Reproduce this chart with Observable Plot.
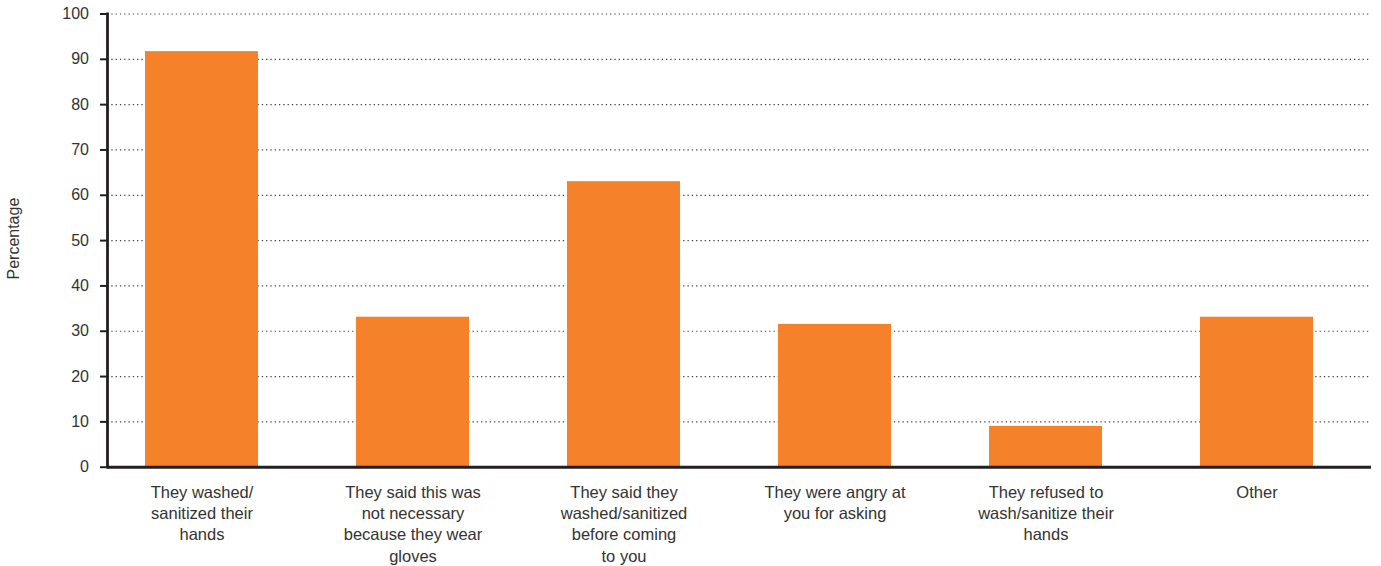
<!DOCTYPE html>
<html>
<head>
<meta charset="utf-8">
<script src="https://cdn.jsdelivr.net/npm/d3@7"></script>
<script src="https://cdn.jsdelivr.net/npm/@observablehq/plot@0.6"></script>
<style>
  html, body { margin: 0; padding: 0; background: #fff; }
  #chart svg { display: block; }
</style>
</head>
<body>
<div id="chart"></div>
<script>
const categories = [
  "They washed/\nsanitized their\nhands",
  "They said this was\nnot necessary\nbecause they wear\ngloves",
  "They said they\nwashed/sanitized\nbefore coming\nto you",
  "They were angry at\nyou for asking",
  "They refused to\nwash/sanitize their\nhands",
  "Other"
];
const percentages = [91.7, 33.1, 63.0, 31.5, 9.0, 33.1];
const yTicks = [0, 10, 20, 30, 40, 50, 60, 70, 80, 90, 100];
const yLabel = "Percentage";

const data = categories.map((c, i) => ({category: c, value: percentages[i]}));

const font = "'Liberation Sans', Arial, Helvetica, sans-serif";
const textColor = "#333";
const axisColor = "#231f20";

const chart = Plot.plot({
  width: 1381,
  height: 566,
  marginLeft: 107,
  marginRight: 10,
  marginTop: 13.5,
  marginBottom: 99.3,
  style: {fontFamily: font, background: "#fff", color: textColor},
  x: {domain: categories, range: [93.5, 1364.8], paddingInner: 0.466, paddingOuter: 0.233, align: 0.5},
  y: {domain: [0, 100]},
  marks: [
    Plot.gridY(yTicks.filter(d => d > 0), {stroke: "#444", strokeOpacity: 1, strokeWidth: 1.2, strokeDasharray: "1.3,3"}),
    Plot.barY(data, {x: "category", y: "value", fill: "#f5822a"}),
    Plot.axisY(yTicks, {tickSize: 7, tickPadding: 11.5, fontSize: 16, stroke: axisColor, strokeWidth: 2, fill: textColor, label: null}),
    Plot.axisX({tickSize: 0, tickPadding: 16, fontSize: 16.5, lineHeight: 1.28, fill: textColor, label: null}),
    Plot.frame({anchor: "left", stroke: axisColor, strokeWidth: 2.8}),
    Plot.ruleY([0], {stroke: axisColor, strokeWidth: 3}),
    Plot.text([yLabel], {frameAnchor: "left", textAnchor: "middle", text: d => d, rotate: -90, dx: -93.5, dy: -2, fontSize: 16, fill: textColor})
  ]
});

document.getElementById("chart").appendChild(chart);
</script>
</body>
</html>
